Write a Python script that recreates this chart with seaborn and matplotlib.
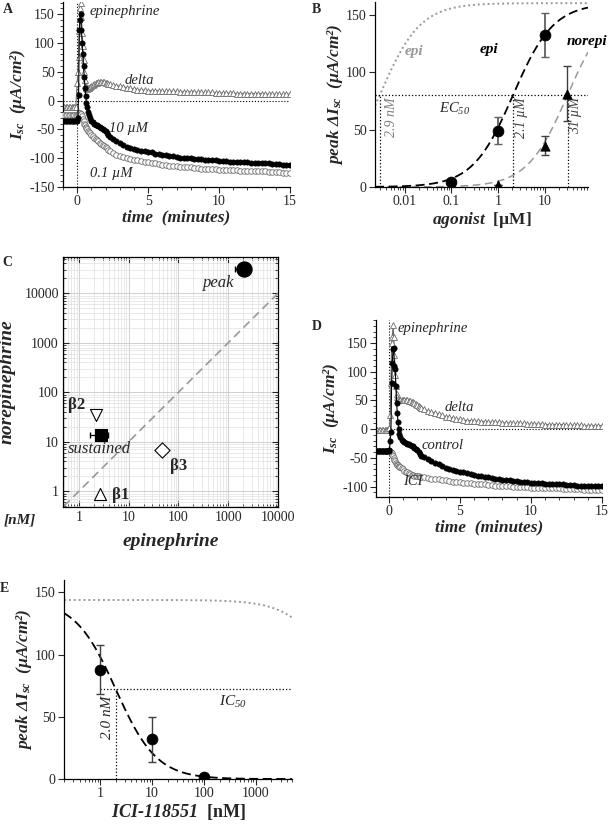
import numpy as np
import matplotlib
matplotlib.use("Agg")
import matplotlib.pyplot as plt
from matplotlib.ticker import MultipleLocator, FuncFormatter, LogLocator, NullFormatter
import seaborn as sns

# ---------------- data ----------------
# sampling times (min): baseline, fast sampling around the spike, then slower tail
t_base = np.arange(-1.0, -0.05, 0.1)
t_spike = np.arange(0.0, 0.81, 0.05)
t_mid = np.arange(0.9, 2.31, 0.1)
t_tail = np.arange(2.5, 15.01, 0.25)
t_min = np.round(np.concatenate([t_base, t_spike, t_mid, t_tail]), 2)

# panel A : epinephrine 10 uM / 0.1 uM and the difference
isc_10uM = [
    -36, -36, -36, -36, -36, -36, -36, -36, -36, -36,
    -36, -30, 10, 122, 140, 150, 122, 100, 80, 60, 40, 22, 8, -5, -12, -20, -25,
    -30, -36, -38, -40, -42, -43, -44, -46, -47, -49, -51, -53, -56, -59, -63,
    -67, -71, -74, -77, -80, -82, -84, -85, -87, -88,
    -89, -90, -92, -93, -94, -95, -96, -97, -98, -99,
    -99, -100, -100, -101, -101, -102, -103, -103, -104, -104,
    -105, -105, -105, -106, -106, -106, -107, -107, -107, -108,
    -108, -108, -109, -109, -109, -110, -110, -110, -111, -111,
    -111,
]
isc_01uM = [
    -25, -25, -25, -25, -25, -25, -25, -25, -25, -25,
    -25, -24, -23, -22, -22, -23, -24, -27, -32, -36, -40, -43, -46, -48, -50, -52, -54,
    -57, -60, -62, -65, -67, -69, -71, -73, -75, -77, -79, -81, -83, -85, -87,
    -91, -94, -96, -98, -100, -102, -103, -104, -105, -106,
    -107, -108, -109, -110, -111, -112, -113, -114, -114, -115,
    -115, -116, -116, -117, -117, -118, -118, -119, -119, -119,
    -120, -120, -120, -121, -121, -121, -122, -122, -122, -122,
    -123, -123, -123, -123, -124, -124, -124, -124, -125, -125,
    -125,
]
isc_delta_A = [
    -12, -12, -12, -12, -12, -12, -12, -12, -12, -12,
    30, 50, 75, 120, 160, 170, 145, 118, 95, 70, 50, 35, 25, 21, 20, 21, 22,
    23, 25, 27, 29, 30, 31, 32, 32, 33, 33, 32, 31, 30, 29, 28,
    27, 26, 25, 24, 22, 21, 20, 19, 18, 18,
    17, 17, 17, 17, 16, 16, 16, 16, 16, 15,
    15, 15, 15, 15, 14, 14, 14, 14, 14, 13,
    13, 13, 13, 13, 13, 12, 12, 12, 12, 12,
    12, 12, 12, 11, 11, 11, 11, 11, 11, 11,
    11,
]

# panel D : control vs ICI-118551 and the difference
isc_control = [
    -38, -38, -38, -38, -38, -38, -38, -38, -38, -38,
    -38, -37, -20, -5, 80, 115, 140, 142, 110, 105, 75, 45, 28, 12, 0, -8, -14,
    -19, -21, -22, -24, -25, -26, -27, -29, -30, -32, -34, -37, -40, -43, -46,
    -49, -52, -55, -58, -61, -64, -67, -69, -71, -73,
    -74, -75, -77, -78, -79, -81, -82, -83, -84, -85,
    -86, -87, -88, -88, -89, -90, -90, -91, -92, -92,
    -93, -93, -94, -94, -95, -95, -95, -96, -96, -96,
    -97, -97, -97, -98, -98, -98, -98, -99, -99, -99,
    -99,
]
isc_ici = [
    -38, -38, -38, -38, -38, -38, -38, -38, -38, -38,
    -38, -38, -38, -40, -42, -44, -47, -50, -53, -56, -58, -60, -62, -63, -64, -65, -66,
    -68, -70, -72, -74, -75, -77, -78, -79, -80, -81, -81, -82, -82, -83, -83,
    -84, -85, -86, -86, -87, -88, -89, -90, -91, -91,
    -92, -93, -93, -94, -95, -95, -96, -96, -97, -97,
    -98, -98, -99, -99, -99, -100, -100, -100, -101, -101,
    -102, -102, -102, -102, -103, -103, -103, -103, -103, -104,
    -104, -104, -104, -104, -104, -105, -105, -105, -105, -105,
    -105,
]
isc_delta_D = [
    -1, -1, -1, -1, -1, -1, -1, -1, -1, -1,
    -1, 2, 25, 80, 150, 160, 182, 160, 130, 95, 75, 62, 56, 53, 51, 50, 50,
    50, 50, 50, 50, 50, 49, 49, 48, 47, 46, 44, 42, 40, 38, 37,
    35, 32, 30, 28, 26, 24, 22, 21, 19, 18,
    17, 16, 15, 15, 14, 14, 13, 13, 13, 12,
    12, 12, 11, 11, 11, 10, 10, 10, 10, 9,
    9, 9, 9, 9, 8, 8, 8, 8, 8, 8,
    7, 7, 7, 7, 7, 6, 6, 6, 6, 6,
    6,
]

# panel B : dose response (uM)
epi_conc = [0.1, 1, 10]
epi_peak = [4, 49, 132]
epi_err = [0, 12, 19]
norepi_conc = [1, 10, 30]
norepi_peak = [2, 36, 81]
norepi_err = [0, 8, 24]
b_top = 160
ec50_epi = 2.1
ec50_norepi = 31
ec50_epi_ref = 0.0029

# panel C : EC50 epinephrine vs norepinephrine (nM)
c_names = ["peak", "sustained", "β1", "β2", "β3"]
c_epi = [2040, 2.84, 2.63, 2.19, 47]
c_norepi = [30500, 13.8, 0.9, 35, 6.7]
c_epi_lo = [1350, 1.66]
c_epi_hi = [2600, 3.8]
c_identity = [0.5, 10000]

# panel E : ICI-118551 inhibition (nM)
ici_conc = [1, 10, 100]
ici_peak = [88, 32, 2]
ici_err = [20, 18, 0]
e_top = 144
ic50_ici = 2.0
e_hill = 1.1
e_ref_k = 46000

# ---------------- style ----------------
sns.set_style("ticks")
plt.rcParams['font.family'] = ['Liberation Serif', 'DejaVu Serif']
plt.rcParams['mathtext.fontset'] = 'custom'
plt.rcParams['mathtext.rm'] = 'Liberation Serif:italic'
plt.rcParams['mathtext.it'] = 'Liberation Serif:italic:bold'
plt.rcParams['mathtext.bf'] = 'Liberation Serif:bold'
plt.rcParams['axes.unicode_minus'] = False
plt.rcParams['axes.linewidth'] = 0.9
plt.rcParams['axes.edgecolor'] = 'black'

GRAY = '#6c6c6c'
TICK_FS = 10
ISC_LABEL = "$I_{sc}$  (µA/cm²)"
PEAK_LABEL = "peak Δ$I_{sc}$  (µA/cm²)"
lab = dict(fontweight='bold', fontstyle='italic')

fmt_g = FuncFormatter(lambda v, p: f"{v:g}")


def hill(x, top, ec50, n=1.0):
    return top * x ** n / (x ** n + ec50 ** n)


def time_axes(ax, ylim, xmin):
    ax.set_xlim(xmin, 15)
    ax.set_ylim(*ylim)
    ax.xaxis.set_major_locator(MultipleLocator(5))
    ax.xaxis.set_minor_locator(MultipleLocator(1))
    ax.yaxis.set_major_locator(MultipleLocator(50))
    ax.yaxis.set_minor_locator(MultipleLocator(10))
    ax.tick_params(which='major', direction='out', length=4, width=0.8, labelsize=TICK_FS, pad=2)
    ax.tick_params(which='minor', direction='out', length=2, width=0.6)
    sns.despine(ax=ax)
    ax.axhline(0, color='k', ls=':', lw=0.8, zorder=1)
    ax.axvline(0, color='k', ls=':', lw=0.8, zorder=1)
    ax.set_xlabel("time  (minutes)", fontsize=12.5, labelpad=1, **lab)
    ax.set_ylabel(ISC_LABEL, fontsize=12.5, labelpad=1, **lab)


def trace(ax, y, kind):
    if kind == 'filled':
        sns.lineplot(x=t_min, y=y, ax=ax, color='black', lw=0.8, marker='o', markersize=3.8,
                     markerfacecolor='black', markeredgecolor='black', markeredgewidth=0.5,
                     errorbar=None, legend=False, zorder=4)
    elif kind == 'open':
        sns.lineplot(x=t_min, y=y, ax=ax, color=GRAY, lw=0.8, marker='o', markersize=4.0,
                     markerfacecolor='white', markeredgecolor=GRAY, markeredgewidth=0.6,
                     errorbar=None, legend=False, zorder=3)
    else:
        sns.lineplot(x=t_min, y=y, ax=ax, color=GRAY, lw=0.8, marker='^', markersize=4.4,
                     markerfacecolor='white', markeredgecolor=GRAY, markeredgewidth=0.6,
                     errorbar=None, legend=False, zorder=2)


fig = plt.figure(figsize=(6.08, 8.27), dpi=100)

# ---------------- A ----------------
axA = fig.add_axes([0.1036, 0.7739, 0.3734, 0.2237])
time_axes(axA, (-150, 171), -1)
trace(axA, isc_delta_A, 'tri')
trace(axA, isc_01uM, 'open')
trace(axA, isc_10uM, 'filled')
axA.text(0.9, 154, "epinephrine", fontsize=10.5, style='italic', va='center')
axA.text(4.4, 35, "delta", fontsize=10.5, style='italic', ha='center', va='center')
axA.text(3.6, -48, "10 µM", fontsize=10.5, style='italic', ha='center', va='center')
axA.text(2.4, -127, "0.1 µM", fontsize=10.5, style='italic', ha='center', va='center')

# ---------------- B ----------------
axB = fig.add_axes([0.6168, 0.7739, 0.3503, 0.2237])
xs = np.logspace(np.log10(0.0023), np.log10(85), 300)
sns.lineplot(x=xs, y=hill(xs, b_top, ec50_epi_ref), ax=axB, color='#999999', lw=1.4,
             ls=(0, (1, 1.5)), errorbar=None)
sns.lineplot(x=xs, y=hill(xs, b_top, ec50_norepi), ax=axB, color='#999999', lw=1.1,
             ls=(0, (5, 3)), errorbar=None)
sns.lineplot(x=xs, y=hill(xs, b_top, ec50_epi), ax=axB, color='black', lw=1.3,
             ls=(0, (5, 2.5)), errorbar=None)
axB.axhline(b_top / 2, color='k', ls=':', lw=0.9)
axB.vlines([ec50_epi_ref, ec50_epi, ec50_norepi], 0, b_top / 2, colors='k',
           linestyles=':', lw=0.9)
axB.errorbar(epi_conc, epi_peak, yerr=epi_err, fmt='none', ecolor='#606060', elinewidth=1.3, capsize=3)
axB.errorbar(norepi_conc, norepi_peak, yerr=norepi_err, fmt='none', ecolor='#404040', elinewidth=1.0, capsize=3)
sns.scatterplot(x=epi_conc, y=epi_peak, ax=axB, marker='o', s=60, color='black', edgecolor='black', zorder=5)
sns.scatterplot(x=norepi_conc, y=norepi_peak, ax=axB, marker='^', s=45, color='black', edgecolor='black', zorder=5)
axB.set_xscale('log')
axB.set_xlim(0.0023, 85)
axB.set_ylim(0, 161)
axB.set_xticks([0.01, 0.1, 1, 10])
axB.xaxis.set_major_formatter(fmt_g)
axB.xaxis.set_minor_locator(LogLocator(base=10, subs=np.arange(2, 10), numticks=20))
axB.xaxis.set_minor_formatter(NullFormatter())
axB.yaxis.set_major_locator(MultipleLocator(50))
axB.tick_params(which='major', direction='out', length=4, width=0.8, labelsize=TICK_FS, pad=2)
axB.tick_params(which='minor', direction='out', length=2, width=0.6)
sns.despine(ax=axB)
axB.text(0.0155, 118, "epi", color='#999999', fontsize=11, ha='center', va='center', **lab)
axB.text(0.65, 120, "epi", color='black', fontsize=11, ha='center', va='center', **lab)
axB.text(29.5, 127, "norepi", color='black', fontsize=11, ha='left', va='center', clip_on=False, **lab)
axB.text(0.114, 68, "EC$_{50}$", fontsize=10.5, style='italic', ha='center', va='center')
axB.text(0.0052, 78, "2.9 nM", fontsize=10, style='italic', color='#808080', rotation=90, ha='center', va='top')
axB.text(3.2, 78, "2.1 µM", fontsize=10, style='italic', color='#404040', rotation=90, ha='center', va='top')
axB.text(46, 78, "31 µM", fontsize=10, style='italic', color='#404040', rotation=90, ha='center', va='top')
axB.set_xlabel("agonist  $\\mathbf{[µM]}$", fontsize=12.5, labelpad=1, **lab)
axB.set_ylabel(PEAK_LABEL, fontsize=12.5, labelpad=1, **lab)

# ---------------- C ----------------
axC = fig.add_axes([0.1036, 0.3869, 0.3536, 0.3023])
axC.set_xscale('log')
axC.set_yscale('log')
axC.set_xlim(0.48, 10000)
axC.set_ylim(0.48, 54000)
axC.grid(True, which='major', color='#c8c8c8', lw=0.6)
axC.grid(True, which='minor', color='#e0e0e0', lw=0.5)
axC.set_axisbelow(True)
sns.lineplot(x=c_identity, y=c_identity, ax=axC, color='#999999', lw=1.2, ls=(0, (5, 3)), errorbar=None)
axC.errorbar(c_epi[:2], c_norepi[:2],
             xerr=[np.subtract(c_epi[:2], c_epi_lo), np.subtract(c_epi_hi, c_epi[:2])],
             fmt='none', ecolor='black', elinewidth=0.9, capsize=2.5)
c_markers = ['o', 's', '^', 'v', 'D']
c_sizes = [120, 80, 75, 75, 60]
c_fill = ['black', 'black', 'white', 'white', 'white']
for i in range(len(c_names)):
    sns.scatterplot(x=[c_epi[i]], y=[c_norepi[i]], ax=axC, marker=c_markers[i], s=c_sizes[i],
                    color=c_fill[i], edgecolor='black', linewidth=0.8, zorder=5)
axC.set_xticks([1, 10, 100, 1000, 10000])
axC.set_yticks([1, 10, 100, 1000, 10000])
axC.xaxis.set_major_formatter(fmt_g)
axC.yaxis.set_major_formatter(fmt_g)
for a in (axC.xaxis, axC.yaxis):
    a.set_minor_locator(LogLocator(base=10, subs=np.arange(2, 10), numticks=20))
    a.set_minor_formatter(NullFormatter())
axC.tick_params(which='both', direction='in', top=True, right=True, labelsize=TICK_FS, pad=3)
axC.tick_params(which='major', length=4, width=0.8)
axC.tick_params(which='minor', length=2, width=0.6)
axC.text(660, 16000, "peak", fontsize=12, style='italic', ha='center', va='center')
axC.text(2.6, 7.1, "sustained", fontsize=12, style='italic', ha='center', va='center')
axC.text(0.91, 56, "β2", fontsize=12, fontweight='bold', ha='center', va='center')
axC.text(100, 3.2, "β3", fontsize=12, fontweight='bold', ha='center', va='center')
axC.text(6.9, 0.85, "β1", fontsize=12, fontweight='bold', ha='center', va='center')
axC.set_xlabel("epinephrine", fontsize=14, labelpad=6, **lab)
axC.set_ylabel("norepinephrine", fontsize=14, labelpad=6, **lab)
axC.text(-0.2, -0.052, "[nM]", transform=axC.transAxes, fontsize=11, ha='center', va='center', **lab)

# ---------------- D ----------------
axD = fig.add_axes([0.6184, 0.399, 0.3717, 0.214])
time_axes(axD, (-118, 190), -0.9)
trace(axD, isc_delta_D, 'tri')
trace(axD, isc_ici, 'open')
trace(axD, isc_control, 'filled')
axD.text(0.63, 175, "epinephrine", fontsize=10.5, style='italic', va='center')
axD.text(4.95, 37, "delta", fontsize=10.5, style='italic', ha='center', va='center')
axD.text(3.8, -28, "control", fontsize=10.5, style='italic', ha='center', va='center')
axD.text(1.7, -91, "ICI", fontsize=10.5, style='italic', ha='center', va='center')

# ---------------- E ----------------
axE = fig.add_axes([0.1053, 0.058, 0.375, 0.2406])
xe = np.logspace(np.log10(0.2), np.log10(5000), 300)
sns.lineplot(x=xe, y=e_top / (1 + xe / e_ref_k), ax=axE, color='#999999', lw=1.4,
             ls=(0, (1, 1.5)), errorbar=None)
sns.lineplot(x=xe, y=e_top - hill(xe, e_top, ic50_ici, e_hill), ax=axE, color='black', lw=1.3,
             ls=(0, (5, 2.5)), errorbar=None)
axE.hlines(e_top / 2, 1, 5000, colors='k', linestyles=':', lw=0.9)
axE.vlines(ic50_ici, 0, e_top / 2, colors='k', linestyles=':', lw=0.9)
axE.errorbar(ici_conc, ici_peak, yerr=ici_err, fmt='none', ecolor='#404040', elinewidth=1.0, capsize=3)
sns.scatterplot(x=ici_conc, y=ici_peak, ax=axE, marker='o', s=60, color='black', edgecolor='black', zorder=5)
axE.set_xscale('log')
axE.set_xlim(0.2, 5000)
axE.set_ylim(0, 160)
axE.set_xticks([1, 10, 100, 1000])
axE.xaxis.set_major_formatter(fmt_g)
axE.xaxis.set_minor_locator(LogLocator(base=10, subs=np.arange(2, 10), numticks=20))
axE.xaxis.set_minor_formatter(NullFormatter())
axE.yaxis.set_major_locator(MultipleLocator(50))
axE.tick_params(which='major', direction='out', length=4, width=0.8, labelsize=TICK_FS, pad=2)
axE.tick_params(which='minor', direction='out', length=2, width=0.6)
sns.despine(ax=axE)
axE.text(1.4, 50, "2.0 nM", fontsize=11, style='italic', rotation=90, ha='center', va='center')
axE.text(366, 62, "IC$_{50}$", fontsize=11, style='italic', ha='center', va='center')
axE.set_xlabel("ICI-118551  $\\mathbf{[nM]}$", fontsize=13, labelpad=1, **lab)
axE.set_ylabel(PEAK_LABEL, fontsize=12.5, labelpad=1, **lab)

# panel letters
for letter, x, y in [("A", 0.004, 0.996), ("B", 0.513, 0.996), ("C", 0.004, 0.69),
                     ("D", 0.513, 0.613), ("E", 0.0, 0.296)]:
    fig.text(x, y, letter, fontsize=10, fontweight='bold', va='top', ha='left')

fig.savefig("out.png", dpi=100)
